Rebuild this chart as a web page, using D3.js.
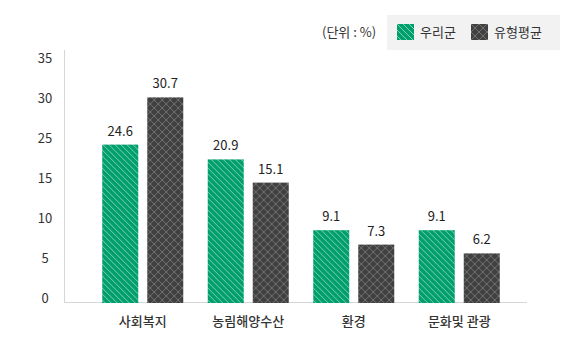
<html>
<script src="https://cdnjs.cloudflare.com/ajax/libs/d3/7.8.5/d3.min.js"></script>
<style>
  body { margin: 0; background: #fff; }
  text { font-family: "Noto Sans CJK KR", "Noto Sans", sans-serif; fill: #333; }
</style>
<body>
  <svg width="574" height="354"></svg>
</body>
</html>
<script>
  const categories = ['사회복지', '농림해양수산', '환경', '문화및 관광'];
  const series = ['우리군', '유형평균'];
  const ourValues = [24.6, 20.9, 9.1, 9.1];
  const avgValues = [30.7, 15.1, 7.3, 6.2];
  const yTicks = [0, 5, 10, 15, 25, 30, 35];
  const unitLabel = '(단위 : %)';

  const colors = ['#009f6b', '#404040'];

  const svg = d3.select('svg');

  // patterns
  const defs = svg.append('defs');
  const pGreen = defs.append('pattern')
    .attr('id', 'pat0')
    .attr('patternUnits', 'userSpaceOnUse')
    .attr('width', 6).attr('height', 6);
  pGreen.append('rect').attr('width', 6).attr('height', 6).attr('fill', colors[0]);
  pGreen.append('path')
    .attr('d', 'M-1,-1 L7,7 M-7,-1 L1,7 M5,-1 L13,7')
    .attr('stroke', '#fff').attr('stroke-opacity', 0.7).attr('stroke-width', 0.7);

  const pGray = defs.append('pattern')
    .attr('id', 'pat1')
    .attr('patternUnits', 'userSpaceOnUse')
    .attr('width', 8).attr('height', 8);
  pGray.append('rect').attr('width', 8).attr('height', 8).attr('fill', colors[1]);
  pGray.append('path')
    .attr('d', 'M0,0 L8,8 M8,0 L0,8')
    .attr('stroke', '#7c7c7c').attr('stroke-width', 0.8);

  const rows = categories.map((c, i) => ({ cat: c, vals: [ourValues[i], avgValues[i]] }));

  // axis steps are drawn evenly even though the labels skip 20
  const yScale = d3.scaleLinear()
    .domain(yTicks)
    .range(yTicks.map((t, i) => 303 - i * 40));

  const x0 = d3.scaleBand()
    .domain(categories)
    .range([90, 512])
    .paddingInner(0.232)
    .paddingOuter(0.116);

  const x1 = d3.scaleBand()
    .domain(series)
    .range([0, x0.bandwidth()])
    .paddingInner(0.2);

  // y axis labels
  const yAxis = svg.append('g')
    .attr('transform', 'translate(45, 0)')
    .call(d3.axisLeft(yScale).tickValues(yTicks).tickSize(0).tickPadding(0));
  yAxis.select('.domain').remove();
  yAxis.selectAll('text')
    .attr('text-anchor', 'middle')
    .attr('dy', '-0.05em')
    .style('font-size', '13px')
    .style('font-family', '"Noto Sans CJK KR", "Noto Sans", sans-serif')
    .attr('fill', '#333');

  // axis lines
  svg.append('line')
    .attr('x1', 64.5).attr('x2', 64.5).attr('y1', 50).attr('y2', 303)
    .attr('stroke', '#d6d6d6');
  svg.append('line')
    .attr('x1', 64).attr('x2', 527).attr('y1', 302.5).attr('y2', 302.5)
    .attr('stroke', '#d6d6d6');

  const groups = svg.selectAll('.grp')
    .data(rows)
    .enter()
    .append('g')
    .attr('transform', (d) => `translate(${x0(d.cat)}, 0)`);

  groups.selectAll('rect')
    .data((d) => d.vals)
    .enter()
    .append('rect')
    .attr('x', (v, i) => x1(series[i]))
    .attr('y', (v) => yScale(v))
    .attr('width', x1.bandwidth())
    .attr('height', (v) => 303 - yScale(v))
    .attr('fill', (v, i) => `url(#pat${i})`);

  groups.selectAll('.val')
    .data((d) => d.vals)
    .enter()
    .append('text')
    .attr('x', (v, i) => x1(series[i]) + x1.bandwidth() / 2)
    .attr('y', (v) => yScale(v) - 9)
    .attr('text-anchor', 'middle')
    .style('font-size', '13px')
    .style('fill', '#222')
    .text((v) => v.toFixed(1));

  // category labels
  svg.selectAll('.cat')
    .data(categories)
    .enter()
    .append('text')
    .attr('x', (c) => x0(c) + x0.bandwidth() / 2)
    .attr('y', 326)
    .attr('text-anchor', 'middle')
    .style('font-size', '13px')
    .style('font-weight', 500)
    .text((c) => c);

  // legend
  svg.append('text')
    .attr('x', 322).attr('y', 37)
    .style('font-size', '13px')
    .text(unitLabel);

  svg.append('rect')
    .attr('x', 387).attr('y', 15).attr('width', 173).attr('height', 35)
    .attr('fill', '#f2f2f2');

  const legX = [397, 471];
  const leg = svg.selectAll('.leg')
    .data(series)
    .enter()
    .append('g')
    .attr('transform', (s, i) => `translate(${legX[i]}, 24)`);
  leg.append('rect')
    .attr('width', 17).attr('height', 16)
    .attr('fill', (s, i) => `url(#pat${i})`);
  leg.append('text')
    .attr('x', 23).attr('y', 13)
    .style('font-size', '13px')
    .text((s) => s);
</script>
